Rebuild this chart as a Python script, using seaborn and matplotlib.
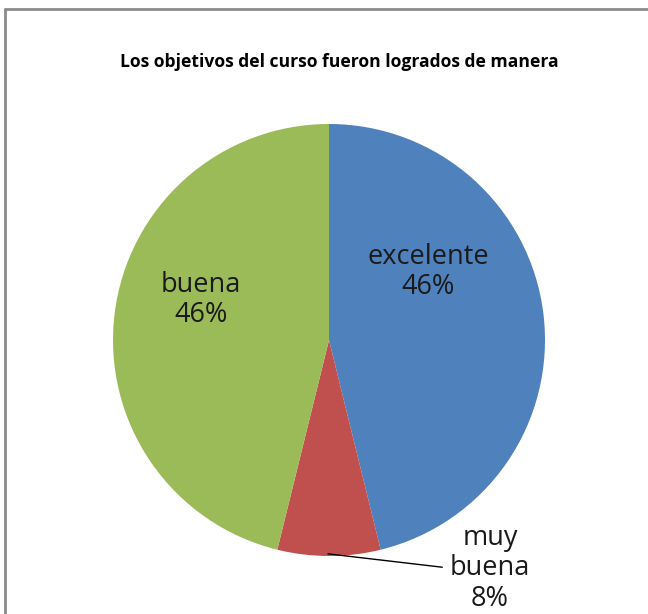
import matplotlib
matplotlib.use("Agg")
import matplotlib.pyplot as plt
from matplotlib.lines import Line2D
import seaborn as sns

# datos del gráfico
categorias = ["excelente", "muy buena", "buena"]
respuestas = [6, 1, 6]
colores = ["#4F81BD", "#C0504D", "#9BBB59"]
titulo = "Los objetivos del curso fueron logrados de manera"

sns.set_theme(style="white")
plt.rcParams["font.family"] = ["Open Sans", "DejaVu Sans"]

fig = plt.figure(figsize=(6.48, 6.14), dpi=100)
fig.patch.set_facecolor("white")

# marco del gráfico (solo se ven arriba e izquierda)
fig.add_artist(Line2D([4.5 / 648, 1.0], [1 - 9 / 614, 1 - 9 / 614],
                      color="#8c8c8c", lw=2.0, transform=fig.transFigure))
fig.add_artist(Line2D([4.5 / 648, 4.5 / 648], [0.0, 1 - 9 / 614],
                      color="#8c8c8c", lw=2.0, transform=fig.transFigure))

ax = fig.add_axes([113 / 648, 58 / 614, 432 / 648, 432 / 614])
wedges, _ = ax.pie(respuestas, colors=colores, startangle=90, counterclock=False,
                   radius=1.0, wedgeprops=dict(linewidth=0))
ax.set_xlim(-1, 1)
ax.set_ylim(-1, 1)
ax.set_aspect("equal")
ax.axis("off")

total = sum(respuestas)
etiquetas = [f"{c}\n{v / total * 100:.0f}%" for c, v in zip(categorias, respuestas)]
etiquetas[1] = etiquetas[1].replace("muy buena", "muy\nbuena")

ax.text(0.458, 0.315, etiquetas[0], ha="center", va="center", fontsize=19.5,
        color="#1a1a1a", linespacing=1.12)
ax.text(-0.593, 0.185, etiquetas[2], ha="center", va="center", fontsize=19.5,
        color="#1a1a1a", linespacing=1.12)
ax.annotate(etiquetas[1], xy=(-0.005, -0.99), xytext=(0.745, -1.056),
            ha="center", va="center", fontsize=19.5, color="#1a1a1a", linespacing=1.12,
            annotation_clip=False,
            arrowprops=dict(arrowstyle="-", color="black", lw=1.0,
                            relpos=(0.0, 0.5), shrinkA=3, shrinkB=0))

fig.text(339 / 648, 1 - 62 / 614, titulo, ha="center", va="center",
         fontsize=12.6, fontweight="bold", color="black")

fig.savefig("out.png", dpi=100)
